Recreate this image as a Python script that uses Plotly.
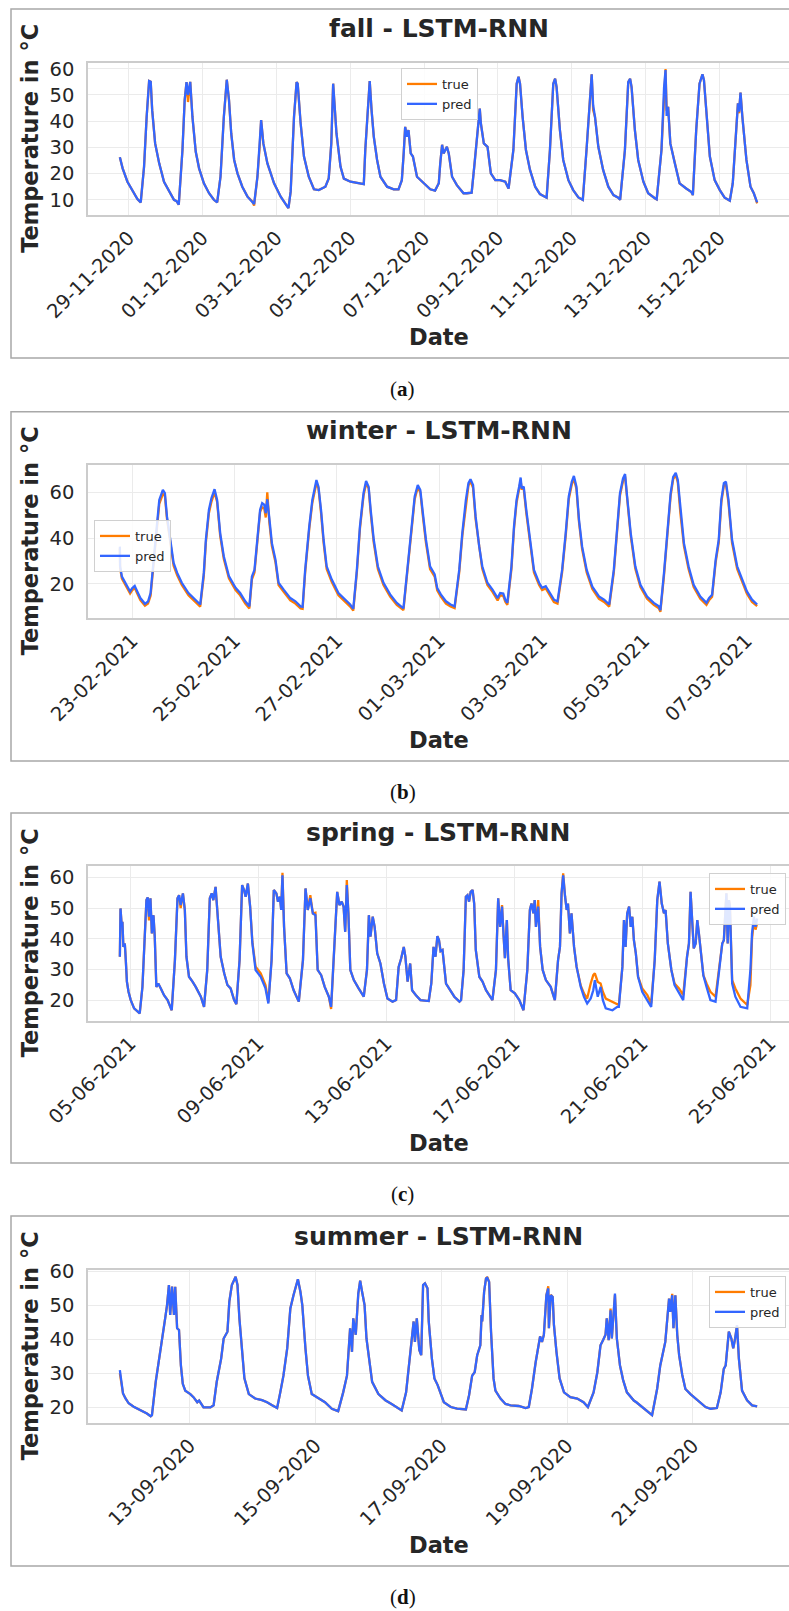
import pandas as pd
import plotly.graph_objects as go

# ---------------- data (days since base date, values in °C) ----------------
fall_base = "2020-11-29"
fall_days = [
    -0.235, -0.16, -0.03, 0.11, 0.24, 0.33, 0.42, 0.49, 0.557, 0.6,
    0.64, 0.72, 0.83, 0.96, 1.1, 1.23, 1.3, 1.36, 1.46, 1.52,
    1.57, 1.61, 1.67, 1.73, 1.82, 1.91, 2.04, 2.18, 2.31, 2.4,
    2.49, 2.58, 2.66, 2.72, 2.78, 2.86, 2.95, 3.08, 3.22, 3.35,
    3.4, 3.49, 3.55, 3.59, 3.65, 3.76, 3.94, 4.12, 4.3, 4.33,
    4.39, 4.48, 4.55, 4.58, 4.66, 4.75, 4.88, 5.02, 5.15, 5.33,
    5.42, 5.49, 5.54, 5.57, 5.63, 5.74, 5.83, 6.01, 6.28, 6.37,
    6.41, 6.48, 6.53, 6.58, 6.64, 6.73, 6.82, 7.0, 7.18, 7.31,
    7.4, 7.45, 7.49, 7.54, 7.58, 7.64, 7.7, 7.81, 7.99, 8.17,
    8.3, 8.4, 8.44, 8.49, 8.53, 8.62, 8.67, 8.76, 8.89, 9.07,
    9.16, 9.29, 9.36, 9.45, 9.51, 9.54, 9.62, 9.72, 9.81, 9.93,
    10.06, 10.2, 10.29, 10.42, 10.51, 10.56, 10.6, 10.67, 10.76, 10.87,
    11.01, 11.14, 11.32, 11.41, 11.5, 11.55, 11.59, 11.68, 11.77, 11.91,
    12.04, 12.18, 12.3, 12.4, 12.5, 12.54, 12.58, 12.63, 12.72, 12.85,
    12.99, 13.13, 13.26, 13.31, 13.44, 13.53, 13.58, 13.62, 13.71, 13.8,
    13.94, 14.07, 14.25, 14.3, 14.43, 14.5, 14.54, 14.57, 14.61, 14.67,
    14.79, 14.92, 15.1, 15.24, 15.28, 15.37, 15.46, 15.54, 15.58, 15.65,
    15.74, 15.87, 16.01, 16.14, 16.28, 16.36, 16.44, 16.5, 16.53, 16.57,
    16.62, 16.73, 16.84, 16.93, 17.02,
]
fall_pred = [
    26.2, 22.0, 16.9, 13.2, 10.3, 9.0, 22.6, 41.6, 55.3, 55.0,
    44.2, 31.5, 23.9, 16.9, 13.2, 10.0, 9.5, 8.1, 29.0, 48.0,
    54.9, 50.0, 55.0, 41.6, 28.3, 22.0, 16.3, 12.5, 10.0, 9.0,
    18.8, 41.6, 55.8, 48.0, 35.3, 25.2, 20.1, 15.0, 11.2, 9.4,
    8.4, 18.8, 30.2, 40.4, 31.5, 23.9, 16.3, 11.2, 7.4, 6.8,
    13.2, 41.6, 54.9, 54.3, 39.1, 26.5, 18.8, 14.0, 13.7, 15.0,
    18.1, 31.5, 54.3, 48.0, 35.3, 22.6, 18.1, 16.9, 16.3, 16.0,
    29.0, 45.5, 55.3, 44.2, 34.1, 25.2, 18.8, 15.0, 14.0, 14.0,
    17.5, 27.7, 37.8, 34.0, 36.6, 27.7, 26.5, 18.8, 16.3, 14.0,
    13.5, 16.3, 23.9, 31.0, 27.7, 30.2, 27.7, 18.8, 15.6, 12.5,
    12.5, 12.7, 22.6, 36.6, 44.8, 39.1, 31.5, 30.2, 20.1, 17.5,
    17.5, 16.9, 14.3, 29.0, 54.3, 56.9, 54.3, 41.6, 29.0, 21.4,
    15.0, 12.2, 10.8, 29.0, 54.3, 56.2, 53.0, 36.6, 25.2, 17.5,
    13.7, 10.9, 10.0, 29.0, 51.7, 57.9, 46.0, 41.6, 30.2, 21.4,
    15.0, 11.8, 10.8, 10.0, 29.0, 54.9, 56.2, 53.0, 36.6, 25.2,
    16.9, 12.5, 10.6, 10.2, 29.0, 53.0, 59.5, 42.0, 45.5, 31.5,
    23.9, 16.3, 14.3, 13.0, 11.8, 36.6, 54.3, 57.9, 55.6, 41.6,
    26.5, 17.5, 13.7, 10.8, 9.7, 16.3, 35.3, 46.8, 43.6, 50.9,
    41.6, 25.2, 15.0, 12.5, 9.0,
]
fall_true = [
    26.2, 22.0, 16.9, 13.2, 10.3, 9.0, 22.6, 41.6, 55.3, 55.0,
    44.2, 31.5, 23.9, 16.9, 13.2, 10.0, 9.5, 8.1, 29.0, 48.0,
    54.9, 47.3, 55.0, 41.6, 28.3, 22.0, 16.3, 12.5, 10.0, 9.0,
    18.8, 41.6, 55.8, 48.0, 35.3, 25.2, 20.1, 15.0, 11.2, 9.4,
    7.8, 18.8, 30.2, 40.4, 31.5, 23.9, 16.3, 11.2, 7.4, 6.8,
    13.2, 41.6, 54.9, 54.3, 39.1, 26.5, 18.8, 14.0, 13.7, 15.0,
    18.1, 31.5, 54.3, 48.0, 35.3, 22.6, 18.1, 16.9, 16.3, 16.0,
    29.0, 45.5, 55.3, 44.2, 34.1, 25.2, 18.8, 15.0, 14.0, 14.0,
    17.5, 27.7, 37.8, 34.0, 36.6, 27.7, 26.5, 18.8, 16.3, 14.0,
    13.5, 16.3, 23.9, 31.0, 27.7, 30.2, 27.7, 18.8, 15.6, 12.5,
    12.5, 12.7, 22.6, 36.6, 44.8, 39.1, 31.5, 30.2, 20.1, 17.5,
    17.5, 16.9, 14.3, 29.0, 54.3, 56.9, 54.3, 41.6, 29.0, 21.4,
    15.0, 12.2, 10.8, 29.0, 54.3, 56.2, 53.0, 36.6, 25.2, 17.5,
    13.7, 10.9, 10.0, 29.0, 51.7, 57.9, 44.2, 41.6, 30.2, 21.4,
    15.0, 11.8, 10.8, 10.0, 29.0, 54.9, 56.2, 53.0, 36.6, 25.2,
    16.9, 12.5, 10.6, 10.2, 29.0, 53.0, 59.9, 44.0, 45.5, 31.5,
    23.9, 16.3, 14.3, 13.0, 11.8, 36.6, 54.3, 57.9, 55.6, 41.6,
    26.5, 17.5, 13.7, 10.8, 9.7, 16.3, 35.3, 46.8, 43.0, 50.9,
    41.6, 25.2, 15.0, 12.5, 8.6,
]
fall_yticks = [10, 20, 30, 40, 50, 60]
fall_xticks = ["2020-11-29", "2020-12-01", "2020-12-03", "2020-12-05", "2020-12-07",
               "2020-12-09", "2020-12-11", "2020-12-13", "2020-12-15"]

winter_base = "2021-02-23"
winter_days = [
    -0.24, -0.235, -0.2, -0.13, -0.04, 0.0, 0.05, 0.1, 0.16, 0.25,
    0.31, 0.36, 0.42, 0.49, 0.53, 0.6, 0.64, 0.68, 0.75, 0.81,
    0.88, 0.97, 1.1, 1.23, 1.33, 1.4, 1.44, 1.5, 1.55, 1.61,
    1.66, 1.72, 1.79, 1.89, 2.02, 2.11, 2.21, 2.29, 2.34, 2.39,
    2.44, 2.5, 2.54, 2.58, 2.61, 2.64, 2.68, 2.73, 2.8, 2.86,
    2.96, 3.09, 3.19, 3.29, 3.33, 3.38, 3.46, 3.52, 3.6, 3.64,
    3.69, 3.74, 3.8, 3.9, 4.03, 4.16, 4.26, 4.32, 4.39, 4.45,
    4.52, 4.57, 4.62, 4.66, 4.72, 4.8, 4.91, 5.04, 5.17, 5.3,
    5.38, 5.45, 5.52, 5.58, 5.63, 5.68, 5.74, 5.82, 5.91, 5.96,
    6.03, 6.13, 6.22, 6.3, 6.39, 6.45, 6.52, 6.57, 6.61, 6.66,
    6.71, 6.78, 6.84, 6.94, 7.04, 7.14, 7.19, 7.25, 7.29, 7.33,
    7.41, 7.46, 7.51, 7.56, 7.59, 7.61, 7.65, 7.7, 7.77, 7.85,
    7.95, 8.01, 8.08, 8.14, 8.24, 8.31, 8.4, 8.47, 8.53, 8.59,
    8.63, 8.68, 8.73, 8.79, 8.88, 8.99, 9.12, 9.22, 9.32, 9.41,
    9.48, 9.53, 9.59, 9.63, 9.67, 9.74, 9.83, 9.93, 10.06, 10.19,
    10.29, 10.32, 10.39, 10.45, 10.52, 10.57, 10.62, 10.66, 10.71, 10.78,
    10.87, 10.97, 11.1, 11.22, 11.27, 11.33, 11.4, 11.46, 11.51, 11.56,
    11.6, 11.65, 11.72, 11.82, 11.92, 12.01, 12.11, 12.21,
]
winter_pred = [
    36.3, 27.7, 23.2, 20.3, 16.7, 18.1, 19.1, 16.7, 13.8, 11.3,
    12.3, 16.0, 30.6, 48.0, 56.7, 61.1, 59.7, 49.5, 37.8, 29.2,
    24.8, 20.5, 16.0, 13.1, 11.0, 24.8, 39.3, 52.4, 57.5, 61.4,
    56.7, 42.2, 32.1, 23.4, 18.3, 16.0, 12.4, 10.2, 23.2, 26.1,
    37.8, 52.4, 55.3, 54.6, 50.9, 57.0, 48.7, 37.8, 30.6, 20.5,
    17.5, 13.8, 12.4, 10.2, 10.0, 26.1, 45.1, 56.7, 65.4, 62.5,
    52.4, 39.3, 27.7, 21.9, 16.0, 13.1, 11.0, 9.1, 26.1, 45.1,
    59.6, 65.0, 62.5, 52.4, 39.3, 27.7, 20.5, 15.4, 11.7, 9.3,
    27.7, 45.1, 58.2, 63.2, 61.0, 50.9, 39.3, 27.7, 24.2, 18.2,
    15.4, 12.4, 11.0, 10.2, 26.1, 42.2, 56.7, 64.0, 65.7, 63.2,
    49.5, 36.4, 27.7, 20.5, 17.5, 13.8, 16.0, 15.8, 13.1, 11.7,
    27.7, 45.1, 56.7, 62.5, 66.5, 61.7, 62.5, 52.4, 39.3, 26.1,
    20.5, 18.3, 19.0, 16.7, 13.1, 12.4, 26.1, 42.2, 58.2, 64.7,
    67.2, 62.5, 48.0, 36.4, 26.1, 18.8, 14.5, 13.1, 11.0, 26.1,
    45.1, 59.6, 66.1, 68.0, 58.2, 42.2, 27.7, 19.6, 14.5, 11.7,
    10.2, 8.5, 24.7, 42.2, 59.6, 66.8, 68.5, 65.4, 52.4, 37.8,
    27.7, 19.6, 14.5, 11.7, 13.8, 15.3, 30.6, 39.3, 56.7, 64.0,
    64.7, 56.7, 39.3, 27.7, 21.9, 16.7, 13.1, 11.0,
]
winter_true = [
    35.5, 26.9, 22.3, 19.4, 15.8, 17.2, 18.3, 15.8, 12.9, 10.5,
    11.4, 14.8, 29.0, 46.5, 55.0, 59.3, 58.5, 48.5, 36.5, 28.0,
    23.8, 19.5, 15.0, 12.1, 10.1, 23.5, 38.0, 51.0, 56.0, 60.0,
    55.8, 41.0, 31.0, 22.4, 17.3, 15.0, 11.4, 9.3, 22.0, 25.0,
    36.5, 51.5, 53.5, 53.0, 49.0, 60.0, 47.0, 36.5, 29.5, 19.5,
    16.5, 12.8, 11.4, 9.3, 9.1, 25.0, 44.0, 55.5, 64.0, 61.8,
    51.0, 38.0, 26.5, 20.8, 15.0, 12.1, 10.1, 8.3, 25.0, 44.0,
    58.5, 63.8, 61.8, 51.0, 38.0, 26.5, 19.5, 14.4, 10.8, 8.5,
    26.5, 44.0, 57.0, 62.2, 60.0, 49.5, 38.0, 26.5, 23.2, 17.2,
    14.4, 11.4, 10.1, 9.4, 25.0, 41.0, 55.5, 63.0, 64.8, 62.0,
    48.3, 35.3, 26.6, 19.5, 16.5, 12.8, 15.0, 14.8, 12.2, 10.8,
    26.5, 44.0, 55.5, 61.5, 65.0, 61.5, 61.5, 51.0, 38.0, 25.0,
    19.5, 17.3, 18.0, 15.7, 12.1, 11.4, 25.0, 41.0, 57.0, 63.5,
    66.0, 61.5, 47.0, 35.3, 25.0, 17.8, 13.5, 12.1, 10.1, 25.0,
    44.0, 58.5, 65.0, 67.0, 57.5, 41.0, 26.6, 18.6, 13.5, 10.8,
    9.3, 7.8, 23.5, 41.0, 58.5, 65.8, 67.5, 64.5, 51.0, 36.5,
    26.5, 18.6, 13.5, 10.8, 12.8, 14.4, 29.5, 38.0, 55.5, 63.0,
    63.8, 55.5, 38.0, 26.5, 20.8, 15.7, 12.1, 10.3,
]
winter_yticks = [20, 40, 60]
winter_xticks = ["2021-02-23", "2021-02-25", "2021-02-27", "2021-03-01",
                 "2021-03-03", "2021-03-05", "2021-03-07"]

spring_base = "2021-06-05"
spring_days = [
    -0.32, -0.30, -0.26, -0.24, -0.21, -0.165, -0.135, -0.10, -0.05, 0.02,
    0.125, 0.23, 0.30, 0.385, 0.46, 0.51, 0.55, 0.59, 0.635, 0.68,
    0.73, 0.77, 0.82, 0.88, 0.96, 1.06, 1.17, 1.27, 1.30, 1.40,
    1.48, 1.53, 1.58, 1.65, 1.71, 1.76, 1.84, 1.95, 2.05, 2.21,
    2.31, 2.41, 2.49, 2.55, 2.60, 2.67, 2.75, 2.83, 2.94, 3.04,
    3.14, 3.25, 3.32, 3.42, 3.50, 3.56, 3.61, 3.68, 3.75, 3.82,
    3.92, 4.08, 4.23, 4.32, 4.42, 4.49, 4.57, 4.62, 4.68, 4.72,
    4.76, 4.81, 4.89, 4.99, 5.11, 5.27, 5.40, 5.48, 5.55, 5.63,
    5.71, 5.79, 5.86, 5.97, 6.08, 6.21, 6.28, 6.36, 6.47, 6.54,
    6.61, 6.67, 6.72, 6.77, 6.82, 6.88, 6.99, 7.14, 7.30, 7.40,
    7.46, 7.51, 7.58, 7.64, 7.72, 7.82, 7.93, 8.04, 8.20, 8.31,
    8.39, 8.47, 8.55, 8.60, 8.67, 8.75, 8.81, 8.93, 9.07, 9.33,
    9.41, 9.48, 9.54, 9.60, 9.65, 9.70, 9.76, 9.87, 9.97, 10.13,
    10.29, 10.34, 10.42, 10.49, 10.54, 10.59, 10.64, 10.70, 10.75, 10.80,
    10.91, 11.01, 11.12, 11.27, 11.32, 11.43, 11.50, 11.56, 11.62, 11.67,
    11.71, 11.77, 11.81, 11.89, 12.02, 12.16, 12.29, 12.41, 12.49, 12.54,
    12.60, 12.64, 12.68, 12.75, 12.81, 12.89, 12.99, 13.14, 13.27, 13.37,
    13.43, 13.48, 13.53, 13.59, 13.64, 13.68, 13.74, 13.79, 13.87, 13.95,
    14.08, 14.18, 14.28, 14.39, 14.47, 14.52, 14.57, 14.61, 14.70, 14.77,
    14.86, 15.07, 15.22, 15.27, 15.38, 15.43, 15.48, 15.53, 15.59, 15.64,
    15.69, 15.74, 15.80, 15.87, 16.00, 16.16, 16.28, 16.39, 16.47, 16.54,
    16.61, 16.68, 16.73, 16.80, 16.91, 17.01, 17.15, 17.28, 17.40, 17.46,
    17.51, 17.56, 17.61, 17.67, 17.72, 17.77, 17.82, 17.91, 18.01, 18.13,
    18.29, 18.39, 18.45, 18.50, 18.55, 18.60, 18.63, 18.67, 18.71, 18.74,
    18.81, 18.91, 19.07, 19.28, 19.38, 19.43, 19.49, 19.54, 19.59,
]
spring_pred = [
    34.2, 49.9, 43.9, 45.6, 37.4, 38.5, 33.1, 26.1, 22.8, 20.1,
    17.4, 16.3, 15.8, 24.4, 43.9, 52.6, 53.5, 47.2, 53.2, 41.8,
    47.7, 40.7, 24.4, 25.5, 23.9, 21.7, 20.1, 17.9, 16.8, 33.1,
    53.2, 54.2, 51.0, 54.8, 49.4, 34.2, 27.7, 26.1, 24.4, 21.2,
    17.9, 29.9, 53.2, 54.8, 52.6, 56.9, 46.1, 34.2, 28.8, 25.0,
    23.9, 20.1, 18.8, 33.1, 57.5, 55.9, 53.7, 58.0, 50.5, 38.5,
    29.9, 27.7, 23.9, 19.0, 33.1, 55.9, 54.8, 52.1, 53.7, 49.4,
    60.7, 43.9, 28.8, 27.2, 23.3, 19.6, 33.1, 56.4, 49.4, 53.2,
    48.3, 47.7, 29.9, 28.2, 24.4, 21.2, 17.9, 33.1, 55.3, 51.0,
    52.1, 50.5, 42.3, 57.5, 48.3, 29.9, 26.6, 23.9, 21.2, 29.9,
    47.7, 40.7, 47.2, 43.9, 35.3, 32.0, 25.5, 20.6, 19.6, 20.1,
    30.9, 33.7, 37.4, 34.2, 26.1, 32.0, 23.3, 21.7, 20.1, 19.8,
    25.5, 37.4, 34.2, 40.9, 39.6, 36.0, 36.4, 25.5, 23.9, 21.2,
    19.6, 20.1, 29.9, 53.7, 54.2, 52.1, 55.3, 55.9, 51.5, 36.4,
    27.7, 26.1, 23.3, 20.6, 20.1, 29.9, 53.2, 43.9, 50.5, 40.7,
    33.7, 46.1, 33.7, 23.3, 22.3, 20.1, 16.8, 29.9, 49.4, 51.5,
    48.3, 52.6, 43.9, 50.5, 37.4, 29.9, 26.6, 24.4, 20.1, 33.1,
    37.4, 54.8, 60.7, 53.7, 49.4, 51.5, 41.8, 48.3, 37.4, 30.9,
    24.4, 21.2, 19.0, 20.6, 23.3, 26.6, 22.8, 21.2, 24.4, 20.1,
    17.4, 16.8, 17.9, 17.9, 30.9, 46.1, 37.4, 48.3, 50.5, 43.9,
    47.2, 39.6, 35.3, 27.7, 22.8, 20.1, 17.9, 33.1, 52.6, 58.6,
    51.5, 48.3, 49.4, 38.5, 29.9, 25.0, 22.3, 20.1, 34.2, 38.5,
    55.3, 43.9, 36.9, 38.5, 46.1, 41.8, 36.4, 28.2, 24.4, 20.1,
    19.6, 28.8, 34.7, 38.5, 39.6, 50.5, 54.8, 38.5, 52.6, 50.5,
    25.5, 21.2, 17.9, 17.4, 29.9, 41.8, 47.2, 43.9, 46.6,
]
spring_true = [
    34.2, 49.9, 43.9, 45.6, 37.4, 38.5, 33.1, 26.1, 22.8, 20.1,
    17.4, 16.3, 15.8, 24.4, 43.9, 52.6, 53.5, 46.0, 53.2, 41.8,
    47.7, 40.7, 24.4, 25.5, 23.9, 21.7, 20.1, 17.9, 16.8, 33.1,
    53.2, 54.2, 50.0, 54.8, 49.4, 34.2, 27.7, 26.1, 24.4, 21.2,
    17.9, 29.9, 53.2, 54.8, 52.6, 56.9, 46.1, 34.2, 28.8, 25.0,
    23.9, 20.1, 18.8, 33.1, 57.5, 55.9, 53.7, 58.0, 50.5, 39.0,
    31.0, 28.8, 25.0, 19.5, 33.1, 55.9, 54.8, 52.1, 53.7, 49.4,
    61.5, 43.9, 28.8, 27.2, 23.3, 19.6, 33.1, 56.4, 49.4, 54.2,
    48.3, 48.5, 29.9, 28.2, 24.4, 21.2, 17.2, 33.1, 55.3, 51.0,
    52.1, 50.5, 42.3, 59.1, 48.3, 29.9, 26.6, 23.9, 21.2, 29.9,
    47.7, 40.7, 47.2, 43.9, 35.3, 32.0, 25.5, 20.6, 19.6, 20.1,
    30.9, 33.7, 37.4, 34.2, 26.1, 32.0, 23.3, 21.7, 20.1, 19.8,
    25.5, 37.4, 34.2, 40.9, 39.6, 36.0, 36.4, 25.5, 23.9, 21.2,
    19.6, 20.1, 29.9, 53.7, 54.2, 52.1, 55.3, 55.9, 51.5, 36.4,
    27.7, 26.1, 23.3, 20.6, 20.1, 29.9, 53.2, 43.9, 51.0, 40.7,
    33.7, 46.1, 33.7, 23.3, 22.3, 20.1, 16.8, 29.9, 49.4, 51.5,
    48.3, 52.6, 43.9, 52.6, 37.4, 29.9, 26.6, 24.4, 20.1, 33.1,
    37.4, 54.8, 61.3, 53.7, 49.4, 51.5, 41.8, 48.3, 37.4, 30.9,
    24.8, 22.3, 20.6, 25.5, 28.2, 28.8, 27.2, 26.0, 25.5, 22.8,
    20.6, 19.6, 19.0, 18.5, 30.9, 46.1, 37.4, 48.3, 50.5, 43.9,
    47.2, 39.6, 35.3, 27.7, 23.9, 21.7, 19.0, 33.1, 52.6, 58.6,
    51.5, 48.3, 49.4, 38.5, 29.9, 25.5, 23.9, 21.7, 34.2, 38.5,
    55.3, 43.9, 36.9, 38.5, 46.1, 41.8, 36.4, 28.2, 25.5, 22.8,
    21.2, 28.8, 34.7, 38.5, 39.6, 50.5, 54.8, 38.5, 52.6, 50.5,
    26.6, 23.9, 20.6, 18.5, 25.0, 40.0, 46.0, 43.0, 45.0,
]
spring_yticks = [20, 30, 40, 50, 60]
spring_xticks = ["2021-06-05", "2021-06-09", "2021-06-13", "2021-06-17",
                 "2021-06-21", "2021-06-25"]

summer_base = "2020-09-13"
summer_days = [
    -1.11, -1.09, -1.06, -1.02, -0.97, -0.89, -0.78, -0.68, -0.62, -0.60,
    -0.54, -0.49, -0.45, -0.39, -0.36, -0.33, -0.31, -0.28, -0.25, -0.23,
    -0.20, -0.17, -0.14, -0.11, -0.07, 0.01, 0.06, 0.12, 0.15, 0.17,
    0.22, 0.33, 0.38, 0.43, 0.50, 0.54, 0.60, 0.63, 0.67, 0.73,
    0.76, 0.79, 0.83, 0.87, 0.94, 1.04, 1.15, 1.23, 1.31, 1.39,
    1.44, 1.49, 1.55, 1.60, 1.65, 1.69, 1.72, 1.76, 1.79, 1.84,
    1.88, 1.94, 2.05, 2.15, 2.26, 2.36, 2.44, 2.50, 2.55, 2.58,
    2.60, 2.64, 2.68, 2.71, 2.74, 2.78, 2.81, 2.87, 2.90, 3.00,
    3.11, 3.21, 3.32, 3.37, 3.44, 3.50, 3.56, 3.58, 3.61, 3.65,
    3.68, 3.71, 3.74, 3.78, 3.80, 3.85, 3.89, 3.94, 3.99, 4.04,
    4.15, 4.25, 4.39, 4.44, 4.49, 4.53, 4.57, 4.62, 4.64, 4.65,
    4.68, 4.71, 4.73, 4.76, 4.79, 4.83, 4.86, 4.94, 5.02, 5.10,
    5.23, 5.34, 5.39, 5.44, 5.50, 5.57, 5.60, 5.63, 5.67, 5.70,
    5.71, 5.74, 5.77, 5.79, 5.83, 5.88, 5.95, 6.05, 6.16, 6.26,
    6.33, 6.42, 6.48, 6.53, 6.57, 6.61, 6.63, 6.66, 6.69, 6.71,
    6.76, 6.79, 6.84, 6.89, 6.95, 7.03, 7.06, 7.10, 7.16, 7.27,
    7.35, 7.43, 7.48, 7.56, 7.62, 7.64, 7.67, 7.69, 7.72, 7.75,
    7.78, 7.83, 7.88, 7.96, 8.04, 8.12, 8.20, 8.28, 8.38, 8.44,
    8.49, 8.52, 8.57, 8.61, 8.64, 8.67, 8.70, 8.73, 8.78, 8.86,
    8.94, 9.02,
]
summer_pred = [
    30.9, 28.0, 24.1, 22.6, 21.2, 20.2, 19.2, 18.2, 17.4, 17.7,
    27.5, 33.3, 39.2, 46.1, 50.0, 55.9, 47.1, 55.4, 47.1, 55.4,
    43.2, 42.7, 32.3, 26.9, 24.9, 23.9, 23.0, 21.5, 22.0, 21.5,
    20.0, 20.0, 20.6, 27.5, 34.3, 40.2, 42.2, 51.0, 55.9, 58.3,
    55.9, 46.1, 37.3, 28.5, 23.9, 22.6, 22.1, 21.5, 20.6, 19.8,
    24.4, 29.3, 37.3, 49.0, 52.9, 55.4, 57.6, 53.9, 50.0, 37.3,
    29.3, 23.9, 22.6, 21.5, 19.6, 18.9, 24.4, 29.3, 43.2, 36.3,
    46.1, 41.3, 53.4, 57.2, 53.9, 50.0, 40.2, 32.3, 27.5, 23.9,
    22.1, 21.0, 19.6, 19.1, 24.4, 34.3, 45.2, 39.2, 46.1, 36.8,
    35.3, 55.9, 56.4, 54.9, 45.2, 34.3, 28.5, 26.6, 23.9, 21.5,
    20.1, 19.6, 19.4, 23.5, 29.3, 30.3, 35.3, 38.2, 47.1, 45.2,
    53.9, 57.8, 58.0, 56.8, 42.2, 28.5, 24.9, 22.6, 21.0, 20.6,
    20.4, 19.8, 20.1, 25.4, 33.3, 40.8, 39.2, 41.3, 52.9, 54.9,
    43.2, 52.9, 52.4, 44.2, 36.3, 28.5, 24.4, 23.0, 22.6, 21.5,
    20.1, 24.4, 30.3, 38.2, 39.7, 41.3, 46.1, 39.7, 48.5, 40.2,
    53.4, 40.2, 32.3, 28.0, 24.4, 22.6, 22.0, 21.5, 20.6, 19.1,
    17.7, 25.4, 32.3, 39.2, 51.9, 48.0, 52.9, 43.2, 52.9, 41.3,
    35.3, 29.5, 25.4, 23.9, 22.6, 21.5, 20.1, 19.6, 19.8, 24.4,
    31.3, 32.3, 42.2, 40.2, 37.3, 40.2, 44.1, 34.3, 24.9, 22.1,
    20.6, 20.3,
]
summer_true = [
    30.0, 28.0, 24.1, 22.6, 21.2, 20.2, 19.2, 18.2, 17.4, 17.7,
    27.5, 33.3, 39.2, 46.1, 50.0, 55.9, 47.1, 55.4, 47.1, 55.4,
    43.2, 42.7, 32.3, 26.9, 24.9, 23.9, 23.0, 21.5, 22.0, 21.5,
    20.0, 20.0, 20.6, 27.5, 34.3, 40.2, 42.2, 51.0, 55.9, 58.3,
    55.9, 46.1, 37.3, 28.5, 23.9, 22.6, 22.1, 21.5, 20.6, 19.8,
    24.4, 29.3, 37.3, 49.0, 52.9, 55.4, 57.6, 53.9, 50.0, 37.3,
    29.3, 23.9, 22.6, 21.5, 19.6, 18.9, 24.4, 29.3, 43.2, 36.3,
    46.1, 41.3, 53.4, 57.2, 53.9, 50.0, 40.2, 32.3, 27.5, 23.9,
    22.1, 21.0, 19.6, 19.1, 24.4, 34.3, 45.2, 39.2, 46.1, 36.8,
    35.3, 55.9, 56.4, 54.9, 45.2, 34.3, 28.5, 26.6, 23.9, 21.5,
    20.1, 19.6, 19.4, 23.5, 29.3, 30.3, 35.3, 38.2, 47.1, 45.2,
    53.9, 57.8, 58.3, 56.8, 42.2, 28.5, 24.9, 22.6, 21.0, 20.6,
    20.4, 19.8, 20.1, 25.4, 33.3, 40.8, 39.2, 41.3, 52.9, 55.5,
    43.2, 53.0, 52.4, 44.2, 36.3, 28.5, 24.4, 23.0, 22.6, 21.5,
    20.1, 24.4, 30.3, 38.2, 39.7, 41.3, 46.1, 39.7, 49.0, 40.2,
    53.0, 40.2, 32.3, 28.0, 24.4, 22.6, 22.0, 21.5, 20.6, 19.1,
    17.7, 25.4, 32.3, 39.2, 51.9, 48.0, 53.3, 43.2, 52.9, 41.3,
    35.3, 29.5, 25.4, 23.9, 22.6, 21.5, 20.1, 19.6, 19.8, 24.4,
    31.3, 32.3, 42.2, 40.2, 37.3, 40.2, 44.1, 34.3, 24.9, 22.1,
    20.6, 20.3,
]
summer_yticks = [20, 30, 40, 50, 60]
summer_xticks = ["2020-09-13", "2020-09-15", "2020-09-17", "2020-09-19", "2020-09-21"]

# ---------------- layout ----------------
W, H = 789, 1611
ORANGE = "#ff7c00"
BLUE = "#3366ff"
TXT = "#262626"
FONT = "DejaVu Sans"

panels = [
    dict(title="fall - LSTM-RNN", base=fall_base, days=fall_days, true=fall_true, pred=fall_pred,
         yticks=fall_yticks, xticks=fall_xticks, yrange=[4.2, 62.3],
         box=(9, 358), plot=(62.7, 215.0), leg=(401, 68), cap="a"),
    dict(title="winter - LSTM-RNN", base=winter_base, days=winter_days, true=winter_true, pred=winter_pred,
         yticks=winter_yticks, xticks=winter_xticks, yrange=[5.1, 72.1],
         box=(411.7, 761), plot=(464.7, 618.0), leg=(94, 520), cap="b"),
    dict(title="spring - LSTM-RNN", base=spring_base, days=spring_days, true=spring_true, pred=spring_pred,
         yticks=spring_yticks, xticks=spring_xticks, yrange=[13.4, 63.7],
         box=(813, 1163), plot=(866.0, 1020.7), leg=(709, 873), cap="c"),
    dict(title="summer - LSTM-RNN", base=summer_base, days=summer_days, true=summer_true, pred=summer_pred,
         yticks=summer_yticks, xticks=summer_xticks, yrange=[15.5, 60.3],
         box=(1216, 1566), plot=(1270.0, 1422.7), leg=(709, 1276), cap="d"),
]

PL = 88
fig = go.Figure()
layout = dict(width=W, height=H, margin=dict(l=0, r=0, t=0, b=0),
              paper_bgcolor="white", plot_bgcolor="white",
              font=dict(family=FONT, color=TXT), showlegend=True)
annotations = []
shapes = []

for i, p in enumerate(panels):
    sfx = "" if i == 0 else str(i + 1)
    leg = "legend" if i == 0 else f"legend{i + 1}"
    base = pd.Timestamp(p["base"])
    x = base + pd.to_timedelta(p["days"], unit="D")
    fig.add_trace(go.Scatter(x=x, y=p["true"], mode="lines", name="true",
                             line=dict(color=ORANGE, width=2.3),
                             xaxis="x" + sfx, yaxis="y" + sfx, legend=leg))
    fig.add_trace(go.Scatter(x=x, y=p["pred"], mode="lines", name="pred",
                             line=dict(color=BLUE, width=2.3),
                             xaxis="x" + sfx, yaxis="y" + sfx, legend=leg))
    dmin, dmax = min(p["days"]), max(p["days"])
    pad = 0.05 * (dmax - dmin)
    xr = [str(base + pd.to_timedelta(dmin - pad, unit="D")),
          str(base + pd.to_timedelta(dmax + pad, unit="D"))]
    top, bot = p["plot"]
    layout["xaxis" + sfx] = dict(
        domain=[PL / W, 1.0], range=xr, type="date", anchor="y" + sfx,
        tickvals=p["xticks"], tickformat="%d-%m-%Y", tickangle=-45,
        tickfont=dict(family=FONT, size=19.5, color=TXT),
        showgrid=True, gridcolor="#ebebeb", gridwidth=1, zeroline=False,
        showline=True, linecolor="#cccccc", linewidth=1.5, mirror=True,
        ticks="", automargin=False, ticklabelstandoff=2,
    )
    layout["yaxis" + sfx] = dict(
        domain=[1 - bot / H, 1 - top / H], range=p["yrange"], anchor="x" + sfx,
        tickvals=p["yticks"], tickfont=dict(family=FONT, size=19.5, color=TXT),
        showgrid=True, gridcolor="#ebebeb", gridwidth=1, zeroline=False,
        showline=True, linecolor="#cccccc", linewidth=1.5, mirror=True,
        ticks="", automargin=False, ticklabelstandoff=8,
    )
    lx, ly = p["leg"]
    layout[leg] = dict(x=lx / W, y=1 - ly / H, xanchor="left", yanchor="top",
                       bgcolor="rgba(255,255,255,0.85)", bordercolor="#d0d0d0", borderwidth=1,
                       font=dict(family=FONT, size=13, color=TXT), itemwidth=30,
                       tracegroupgap=0)
    cx = (PL + W) / 2
    annotations.append(dict(text=f"<b>{p['title']}</b>", x=cx / W, y=1 - (top - 34) / H,
                            xref="paper", yref="paper", xanchor="center", yanchor="middle",
                            showarrow=False, font=dict(family=FONT, size=25, color=TXT)))
    annotations.append(dict(text="<b>Temperature in °C</b>", x=30 / W, y=1 - ((top + bot) / 2) / H,
                            xref="paper", yref="paper", xanchor="center", yanchor="middle",
                            textangle=-90, showarrow=False,
                            font=dict(family=FONT, size=22.5, color=TXT)))
    annotations.append(dict(text="<b>Date</b>", x=cx / W, y=1 - (bot + 122) / H,
                            xref="paper", yref="paper", xanchor="center", yanchor="middle",
                            showarrow=False, font=dict(family=FONT, size=22.5, color=TXT)))
    b0, b1 = p["box"]
    annotations.append(dict(text=f"(<b>{p['cap']}</b>)", x=403 / W, y=1 - (b1 + 31) / H,
                            xref="paper", yref="paper", xanchor="center", yanchor="middle",
                            showarrow=False, font=dict(family="Liberation Serif", size=21, color="#111111")))
    shapes.append(dict(type="rect", xref="paper", yref="paper",
                       x0=11 / W, x1=1.02, y0=1 - b1 / H, y1=1 - b0 / H,
                       line=dict(color="#a8a8a8", width=1.5), fillcolor="rgba(0,0,0,0)",
                       layer="below"))

layout["annotations"] = annotations
layout["shapes"] = shapes
fig.update_layout(**layout)
fig.write_html("out.html")
